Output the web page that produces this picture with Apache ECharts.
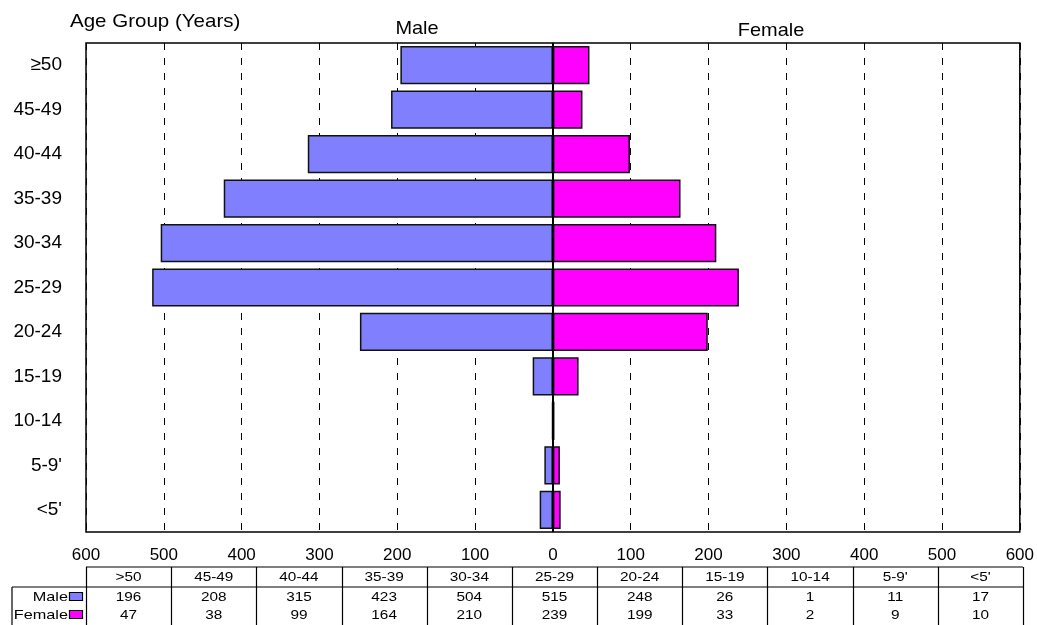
<!DOCTYPE html>
<html>
<head>
<meta charset="utf-8">
<script src="https://cdn.jsdelivr.net/npm/echarts@6/dist/echarts.min.js"></script>
<style>
  html, body { margin: 0; padding: 0; background: #fff; }
  #chart { width: 1037px; height: 625px; }
</style>
</head>
<body>
<div id="chart"></div>
<script>
// age groups, top to bottom
const categories = ['≥50', '45-49', '40-44', '35-39', '30-34', '25-29', '20-24', '15-19', '10-14', "5-9'", "<5'"];
// the data table under the chart writes the first group as >50
const tableHeads = ['>50', '45-49', '40-44', '35-39', '30-34', '25-29', '20-24', '15-19', '10-14', "5-9'", "<5'"];
const maleValues = [196, 208, 315, 423, 504, 515, 248, 26, 1, 11, 17];
const femaleValues = [47, 38, 99, 164, 210, 239, 199, 33, 2, 9, 10];
const seriesNames = ['Male', 'Female'];
const seriesColors = ['#8080ff', '#ff00ff'];

const font = "'Liberation Sans', Arial, sans-serif";
const plotLeft = 86, plotTop = 43, plotWidth = 937, plotHeight = 489;

const chart = echarts.init(document.getElementById('chart'));

// data table below the axis
function tableGraphics() {
  const els = [];
  const left = plotLeft, right = plotLeft + plotWidth;
  const colW = (right - left) / tableHeads.length;
  const headTop = 567, headBottom = 587, bottom = 640;
  const rowY = [597, 615];
  const txt = {font: '13px ' + font, fill: '#000', verticalAlign: 'middle'};
  const line = (x1, y1, x2, y2) => els.push({
    type: 'line', shape: {x1, y1, x2, y2},
    style: {stroke: '#000', lineWidth: 1.2}, silent: true
  });
  line(left, headTop, right, headTop);
  line(12, headBottom, right, headBottom);
  line(12, headBottom, 12, bottom);
  for (let i = 0; i <= tableHeads.length; i++) {
    const x = Math.round(left + i * colW) + 0.5;
    line(x, headTop, x, bottom);
  }
  tableHeads.forEach((h, i) => {
    const cx = left + (i + 0.5) * colW;
    els.push({type: 'text', x: cx, y: (headTop + headBottom) / 2 + 0.5, scaleX: 1.18, silent: true,
      style: Object.assign({text: h, align: 'center'}, txt)});
    [maleValues[i], femaleValues[i]].forEach((v, r) => {
      els.push({type: 'text', x: cx, y: rowY[r], scaleX: 1.18, silent: true,
        style: Object.assign({text: String(v), align: 'center'}, txt)});
    });
  });
  seriesNames.forEach((n, r) => {
    els.push({type: 'text', x: 68, y: rowY[r], scaleX: 1.25, silent: true,
      style: Object.assign({text: n, align: 'right'}, txt)});
    els.push({type: 'rect', shape: {x: 69.5, y: rowY[r] - 4.5, width: 13, height: 8}, silent: true,
      style: {fill: seriesColors[r], stroke: '#000', lineWidth: 1.2}});
  });
  return els;
}

const option = {
  animation: false,
  backgroundColor: '#fff',
  grid: {
    left: plotLeft, top: plotTop, width: plotWidth, height: plotHeight,
    show: true, borderColor: '#000', borderWidth: 1.5, backgroundColor: '#fff'
  },
  xAxis: {
    type: 'value', min: -600, max: 600, interval: 100,
    axisLine: {show: false}, axisTick: {show: false},
    axisLabel: {
      formatter: v => String(Math.abs(v)), fontSize: 17, color: '#000',
      fontFamily: font, margin: 15
    },
    splitLine: {show: true, lineStyle: {color: '#000', width: 1, type: [7, 8]}}
  },
  yAxis: {
    type: 'category', inverse: true, data: categories,
    axisLine: {show: false}, axisTick: {show: false},
    axisLabel: {fontSize: 19, color: '#000', fontFamily: font, margin: 24}
  },
  graphic: [
    {type: 'text', x: 70, y: 22, scaleX: 1.08, silent: true,
      style: {text: 'Age Group (Years)', font: '19px ' + font, fill: '#000', verticalAlign: 'middle'}},
    {type: 'text', x: 417, y: 29, scaleX: 1.05, silent: true,
      style: {text: 'Male', font: '19px ' + font, fill: '#000', align: 'center', verticalAlign: 'middle'}},
    {type: 'text', x: 771, y: 31, scaleX: 1.05, silent: true,
      style: {text: 'Female', font: '19px ' + font, fill: '#000', align: 'center', verticalAlign: 'middle'}}
  ].concat(tableGraphics()),
  series: [
    {
      name: seriesNames[0], type: 'bar',
      data: maleValues.map(v => -v),
      barCategoryGap: '14%', barGap: '-100%',
      itemStyle: {color: seriesColors[0], borderColor: '#111', borderWidth: 1.5}
    },
    {
      name: seriesNames[1], type: 'bar',
      data: femaleValues,
      barCategoryGap: '14%', barGap: '-100%',
      itemStyle: {color: seriesColors[1], borderColor: '#111', borderWidth: 1.5},
      markLine: {
        silent: true, symbol: 'none', label: {show: false},
        lineStyle: {color: '#000', width: 2, type: 'solid'},
        data: [{xAxis: 0}]
      }
    }
  ]
};

chart.setOption(option);
</script>
</body>
</html>
